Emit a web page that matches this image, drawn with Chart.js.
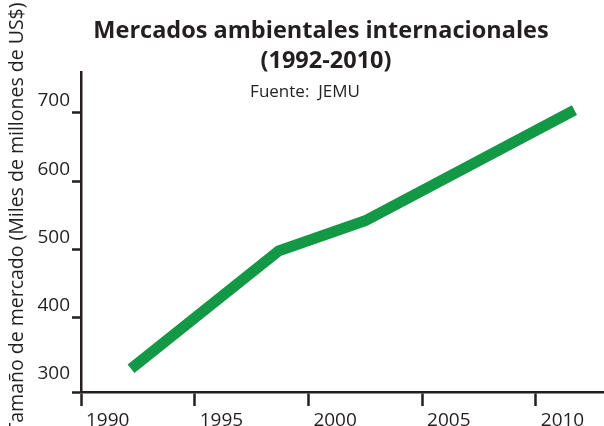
<!DOCTYPE html>
<html>
<head>
<meta charset="utf-8">
<script src="https://cdn.jsdelivr.net/npm/chart.js@4"></script>
<style>
  html, body { margin: 0; padding: 0; background: #fff; overflow: hidden; }
  #wrap { width: 604px; height: 426px; }
</style>
</head>
<body>
<div id="wrap"><canvas id="marketChart" width="604" height="426"></canvas></div>
<script>
// datos
const years = [1992.2, 1998.7, 2002.5, 2011.7];
const marketSize = [325, 498, 542, 704];
const xTicks = [1990, 1995, 2000, 2005, 2010];
const yTicks = [300, 400, 500, 600, 700];

const titleLines = ['Mercados ambientales internacionales', '(1992-2010)'];
const sourceText = 'Fuente:  JEMU';
const yTitle = 'Tamaño de mercado (Miles de millones de US$)';

const ink = '#231f20';
const font = 'Open Sans';
const yMin = 291, yMax = 760;

// titulos dibujados a mano, como en el original
const textPlugin = {
    id: 'texts',
    afterDraw(chart) {
        const ctx = chart.ctx;
        ctx.save();
        ctx.fillStyle = ink;
        ctx.textAlign = 'center';
        ctx.textBaseline = 'alphabetic';
        ctx.font = 'bold 23.5px "' + font + '"';
        ctx.fillText(titleLines[0], 321, 38);
        ctx.fillText(titleLines[1], 326, 68);
        ctx.font = '17px "' + font + '"';
        ctx.fillText(sourceText, 305, 97);
        // eje y
        ctx.translate(17, 218);
        ctx.rotate(-Math.PI / 2);
        ctx.font = '19.5px "' + font + '"';
        ctx.textBaseline = 'middle';
        ctx.fillText(yTitle, 0, 0);
        ctx.restore();
    }
};

const ctx = document.getElementById('marketChart').getContext('2d');
new Chart(ctx, {
    type: 'line',
    data: {
        datasets: [{
            label: 'Tamaño de mercado',
            data: years.map((y, i) => ({ x: y, y: marketSize[i] })),
            borderColor: '#139846',
            borderWidth: 11,
            borderCapStyle: 'butt',
            borderJoinStyle: 'miter',
            pointRadius: 0,
            fill: false,
            tension: 0
        }]
    },
    options: {
        responsive: false,
        animation: false,
        layout: { padding: { top: 72, left: 0, right: 0, bottom: 0 } },
        plugins: {
            legend: { display: false },
            title: { display: false },
            tooltip: { enabled: false }
        },
        scales: {
            x: {
                type: 'linear',
                min: 1990,
                max: 2013,
                afterBuildTicks: (s) => { s.ticks = xTicks.map(v => ({ value: v })); },
                afterFit: (s) => { s.height = 34; },
                border: { display: true, color: ink, width: 2.5 },
                grid: { drawOnChartArea: false, drawTicks: true, tickLength: 14, tickColor: ink, tickWidth: 2.5 },
                ticks: {
                    color: ink,
                    font: { family: font, size: 19 },
                    align: 'start',
                    labelOffset: 5,
                    padding: 3,
                    maxRotation: 0,
                    callback: (v) => String(v)
                }
            },
            y: {
                type: 'linear',
                min: yMin,
                max: yMax,
                afterBuildTicks: (s) => { s.ticks = [yMin].concat(yTicks).map(v => ({ value: v })); },
                afterFit: (s) => { s.width = 81; },
                border: { display: true, color: ink, width: 2.5 },
                grid: {
                    drawOnChartArea: false,
                    drawTicks: true,
                    tickLength: 9,
                    tickWidth: 2.5,
                    tickColor: (c) => (c.tick && c.tick.value === 300) ? 'rgba(0,0,0,0)' : ink
                },
                ticks: {
                    color: ink,
                    font: { family: font, size: 19 },
                    padding: 2,
                    labelOffset: -12,
                    callback: (v) => v === yMin ? '' : String(v)
                }
            }
        }
    },
    plugins: [textPlugin]
});
</script>
</body>
</html>
